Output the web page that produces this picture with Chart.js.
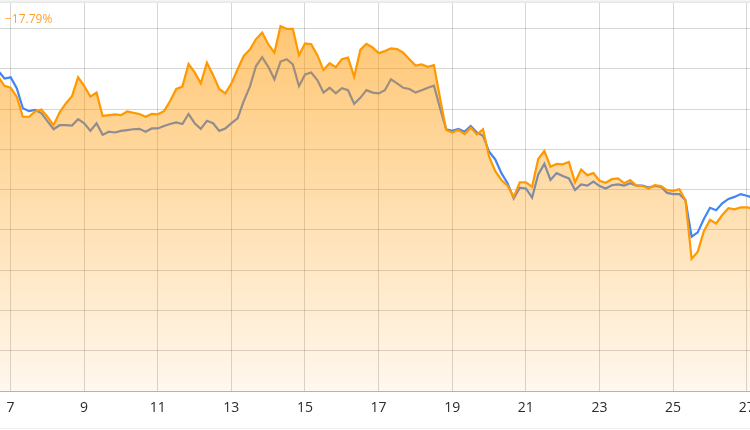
<!DOCTYPE html>
<html>
<head>
<meta charset="utf-8">
<script src="https://cdn.jsdelivr.net/npm/chart.js@4.4.1/dist/chart.umd.min.js"></script>
<style>
  body { margin: 0; background: #fff; }
  #wrap { position: relative; width: 750px; height: 430px; }
  #topLine { position: absolute; left: 0; top: 0; width: 750px; height: 3px; background: linear-gradient(#f7f7f7, #e4e4e4); }
  #bottomLine { position: absolute; left: 0; top: 428px; width: 750px; height: 1px; background: #efefef; }
  #change { position: absolute; left: 5px; top: 10px; font: 12px "Open Sans", sans-serif; color: #ffa12e; }
</style>
</head>
<body>
<div id="wrap">
  <canvas id="perfChart" width="750" height="430"></canvas>
  <div id="topLine"></div>
  <div id="bottomLine"></div>
  <div id="change">−17.79%</div>
</div>
<script>
// x axis: days of the month, one point every 4 hours
const startDay = 6.67
const stepDay = 1 / 6
const xTickDays = [7, 9, 11, 13, 15, 17, 19, 21, 23, 25, 27]
const yGridValues = [-60, -50, -40, -30, -20, -10, 0, 10, 20, 30]

// orange series (filled)
const orangeValues = [
  18.0, 15.8, 15.3, 13.1, 8.1, 8.1, 9.4, 9.9, 8.1, 6.0,
  9.2, 11.4, 13.2, 17.9, 15.7, 13.1, 14.1, 8.3, 8.5, 8.7,
  8.5, 9.4, 9.1, 8.8, 8.1, 8.8, 8.7, 9.5, 12.0, 15.0,
  15.6, 21.2, 19.1, 16.4, 21.5, 18.5, 15.0, 13.9, 16.4, 19.9,
  23.2, 24.8, 27.4, 29.0, 26.1, 24.0, 30.6, 29.9, 29.9, 23.4,
  26.3, 26.1, 23.4, 19.7, 21.4, 20.4, 22.4, 22.8, 18.0, 24.7,
  26.2, 25.3, 23.9, 24.4, 25.1, 24.9, 24.0, 22.4, 20.8, 21.1,
  20.5, 20.9, 12.7, 4.8, 4.2, 4.8, 3.8, 5.4, 3.7, 5.0,
  -1.8, -5.4, -7.6, -9.0, -11.8, -8.2, -8.2, -9.3, -2.4, -0.4,
  -4.3, -3.6, -3.7, -3.1, -8.2, -5.0, -6.4, -5.9, -7.8, -8.3,
  -7.4, -7.2, -8.4, -7.6, -9.0, -9.1, -9.7, -8.9, -9.1, -10.1,
  -10.3, -9.9, -12.6, -27.2, -25.4, -20.3, -17.5, -18.4, -16.3, -14.6,
  -14.9, -14.4, -14.4, -14.6
]

// blue series (line only, shows grey under the orange fill)
const blueValues = [
  19.5, 17.6, 17.9, 15.2, 10.2, 9.5, 9.8, 9.0, 7.0, 5.0,
  6.0, 6.0, 5.9, 7.5, 6.5, 4.6, 6.5, 3.6, 4.4, 4.2,
  4.6, 4.8, 5.0, 5.1, 4.4, 5.2, 5.2, 5.8, 6.3, 6.7,
  6.3, 8.8, 6.5, 5.1, 7.1, 6.5, 4.6, 5.2, 6.5, 7.7,
  12.0, 15.6, 20.7, 22.9, 20.5, 17.4, 21.8, 22.4, 21.1, 15.7,
  18.6, 19.1, 17.2, 14.1, 15.3, 13.9, 15.2, 14.7, 11.3, 12.8,
  14.7, 14.1, 13.9, 14.7, 17.4, 16.4, 15.3, 15.0, 14.1, 14.7,
  15.3, 15.8, 10.2, 5.0, 4.6, 5.1, 4.4, 5.8, 4.2, 3.4,
  -0.6, -2.5, -5.9, -8.4, -12.2, -9.5, -9.7, -12.0, -6.2, -3.6,
  -7.6, -5.9, -6.6, -7.2, -10.1, -8.7, -9.0, -8.0, -9.1, -9.7,
  -8.9, -8.7, -9.0, -8.4, -9.0, -9.0, -9.5, -9.1, -9.3, -10.8,
  -11.1, -11.1, -12.6, -21.7, -20.6, -17.3, -14.5, -15.1, -13.4, -12.3,
  -11.8, -11.1, -11.5, -12.0
]

const toPoints = (values) => values.map((v, i) => ({ x: startDay + i * stepDay, y: v }))

const orangeFill = (context) => {
  const area = context.chart.chartArea
  if (!area) return 'rgba(255,152,0,0.4)'
  const g = context.chart.ctx.createLinearGradient(0, area.top, 0, area.bottom)
  g.addColorStop(0, 'rgba(255,152,0,0.58)')
  g.addColorStop(1, 'rgba(255,152,0,0.07)')
  return g
}

const createChart = () => {
  const ctx = document.querySelector('#perfChart')
  const perfChart = new Chart(ctx, {
    type: 'line',
    data: {
      datasets: [
        {
          label: 'orange',
          data: toPoints(orangeValues),
          borderColor: '#ff9900',
          borderWidth: 2.2,
          backgroundColor: orangeFill,
          fill: 'start',
          pointRadius: 0,
          tension: 0
        },
        {
          label: 'blue',
          data: toPoints(blueValues),
          borderColor: '#4285f4',
          borderWidth: 2.2,
          fill: false,
          pointRadius: 0,
          tension: 0
        }
      ]
    },
    options: {
      responsive: false,
      animation: false,
      layout: { padding: { top: 3, left: 0, right: 0, bottom: 0 } },
      plugins: { legend: { display: false }, tooltip: { enabled: false } },
      scales: {
        x: {
          type: 'linear',
          min: 6.715,
          max: 27.09,
          afterBuildTicks: (scale) => { scale.ticks = xTickDays.map(d => ({ value: d })) },
          afterFit: (scale) => {
            scale.height = 39
            scale.paddingLeft = 0
            scale.paddingRight = 0
          },
          grid: { color: 'rgba(0,0,0,0.16)', drawTicks: false },
          border: { color: 'rgba(0,0,0,0.16)' },
          ticks: {
            padding: 9,
            color: '#2b2b2b',
            font: { family: 'Open Sans', size: 14 },
            maxRotation: 0,
            autoSkip: false,
            callback: (v) => String(v)
          }
        },
        y: {
          min: -60,
          max: 36.35,
          afterBuildTicks: (scale) => { scale.ticks = yGridValues.map(v => ({ value: v })) },
          afterFit: (scale) => {
            scale.width = 0
            scale.paddingTop = 0
            scale.paddingBottom = 0
          },
          grid: { color: 'rgba(0,0,0,0.16)', drawTicks: false },
          border: { display: false },
          ticks: { display: false }
        }
      }
    }
  })
  return perfChart
}

createChart()
</script>
</body>
</html>
